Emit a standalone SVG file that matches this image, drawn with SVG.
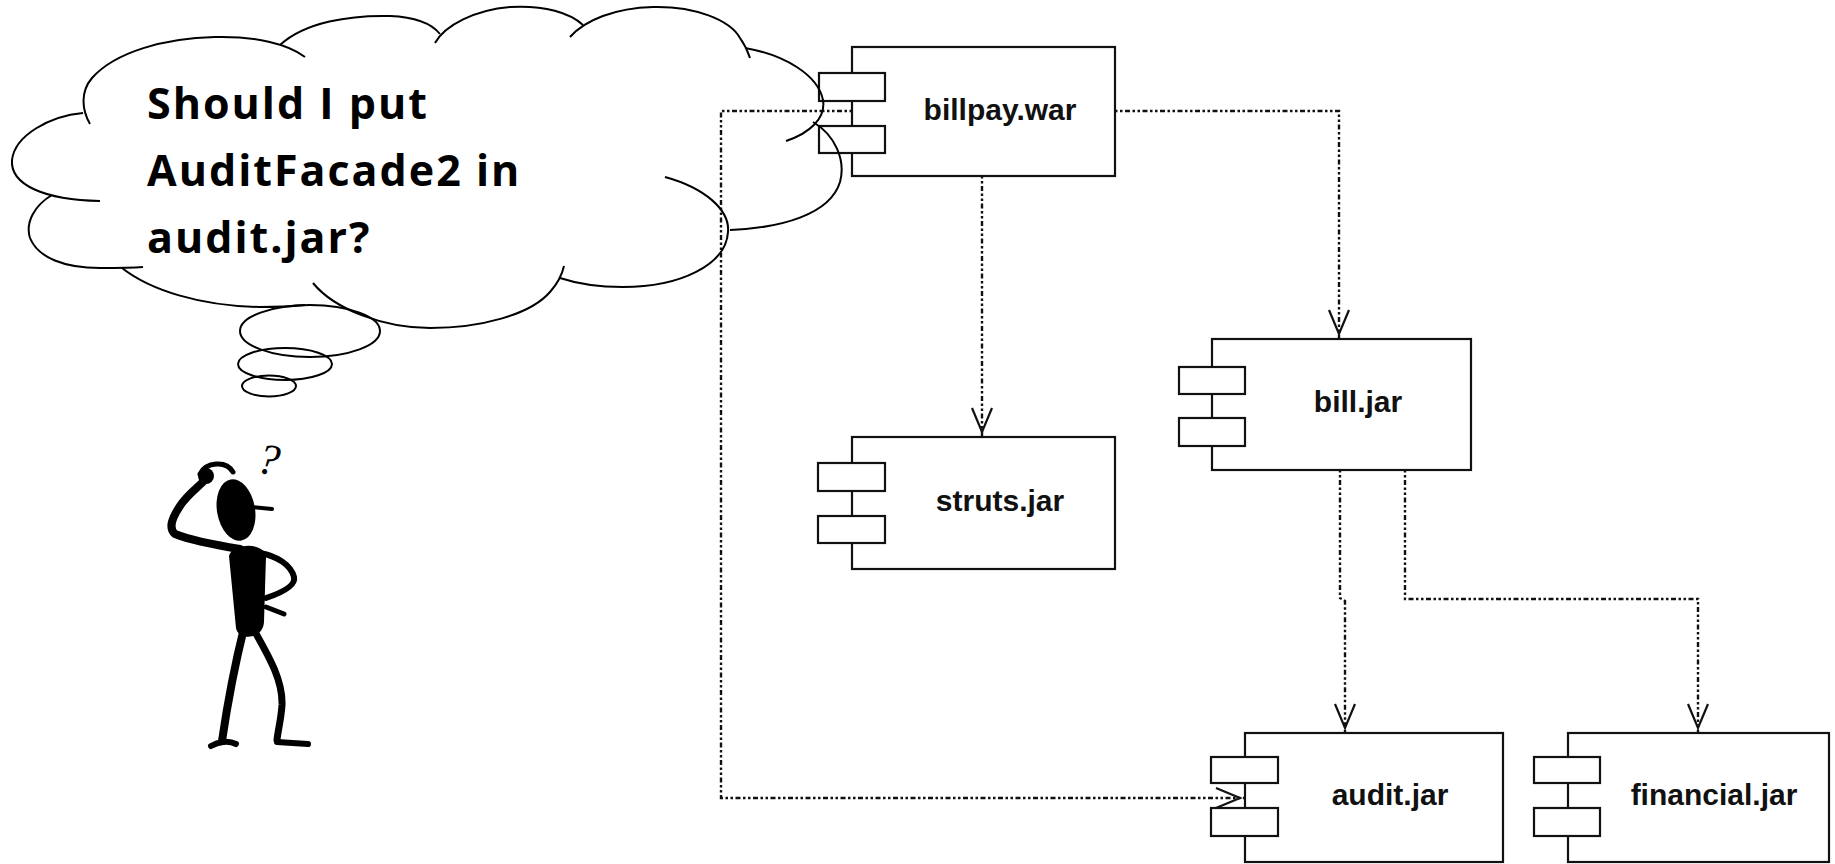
<svg xmlns="http://www.w3.org/2000/svg" width="1835" height="864" viewBox="0 0 1835 864">
  <style>
    .body { fill: #ffffff; stroke: #111; stroke-width: 2.2; }
    .port { fill: #ffffff; stroke: #111; stroke-width: 2.2; }
    .label { font-family: "Liberation Sans", Arial, sans-serif; font-weight: bold; font-size: 30px; fill: #111; text-anchor: middle; }
    .conn { fill: none; stroke: #111; stroke-width: 2.4; stroke-dasharray: 2.5 2.5 2.5 2.5 5 2.5; marker-end: url(#dep); }
    .cloud { fill: none; stroke: #000; stroke-width: 2; }
    .thought { font-family: "Comic Sans MS", "Open Sans", sans-serif; font-weight: bold; font-size: 43px; letter-spacing: 2px; fill: #000; }
    .limb { fill: none; stroke: #000; stroke-linecap: round; stroke-linejoin: round; }
  </style>
  <defs>
    <!-- open "V" dependency arrowhead -->
    <marker id="dep" markerUnits="userSpaceOnUse" markerWidth="40" markerHeight="30" viewBox="-30 -15 40 30" refX="5" refY="0" orient="auto">
      <path d="M-24,-10 L0,0 L-24,10" fill="none" stroke="#111" stroke-width="2.2"/>
    </marker>
  </defs>

  <rect width="1835" height="864" fill="#ffffff"/>

  <!-- components -->
  <g id="billpay-war">
    <rect class="body" x="852" y="47" width="263" height="129"/>
    <rect class="port" x="819" y="73" width="66" height="28"/>
    <rect class="port" x="819" y="126" width="66" height="27"/>
    <text class="label" x="1000" y="120">billpay.war</text>
  </g>
  <g id="struts-jar">
    <rect class="body" x="852" y="437" width="263" height="132"/>
    <rect class="port" x="818" y="463" width="67" height="28"/>
    <rect class="port" x="818" y="516" width="67" height="27"/>
    <text class="label" x="1000" y="511">struts.jar</text>
  </g>
  <g id="bill-jar">
    <rect class="body" x="1212" y="339" width="259" height="131"/>
    <rect class="port" x="1179" y="367" width="66" height="27"/>
    <rect class="port" x="1179" y="418" width="66" height="28"/>
    <text class="label" x="1358" y="412">bill.jar</text>
  </g>
  <g id="audit-jar">
    <rect class="body" x="1245" y="733" width="258" height="129"/>
    <rect class="port" x="1211" y="757" width="67" height="26"/>
    <rect class="port" x="1211" y="808" width="67" height="28"/>
    <text class="label" x="1390" y="805">audit.jar</text>
  </g>
  <g id="financial-jar">
    <rect class="body" x="1568" y="733" width="261" height="129"/>
    <rect class="port" x="1534" y="757" width="66" height="26"/>
    <rect class="port" x="1534" y="808" width="66" height="28"/>
    <text class="label" x="1714" y="805">financial.jar</text>
  </g>

  <!-- dependencies -->
  <g id="connectors">
    <path class="conn" d="M852,111 L721,111 L721,798 L1245,798"/>
    <path class="conn" d="M982,176 L982,437"/>
    <path class="conn" d="M1115,111 L1339,111 L1339,339"/>
    <path class="conn" d="M1340,470 L1340,598 L1345,601 L1345,733"/>
    <path class="conn" d="M1405,470 L1405,599 L1698,599 L1698,733"/>
  </g>

  <!-- thought cloud -->
  <g id="cloud">
    <path class="cloud" d="M90,124 C82,110 80,92 92,78 C115,52 165,38 215,37 C255,36 288,44 305,57"/>
    <path class="cloud" d="M280,45 C305,22 350,15 390,16 C415,17 432,24 440,34"/>
    <path class="cloud" d="M435,43 C445,25 475,10 510,7 C545,5 570,13 583,25"/>
    <path class="cloud" d="M570,37 C585,20 615,8 653,7 C695,6 730,20 740,38 C745,45 748,52 750,58"/>
    <path class="cloud" d="M745,48 C785,55 818,75 823,100 C826,118 810,133 786,141"/>
    <path class="cloud" d="M813,122 C835,135 846,160 840,182 C830,215 780,228 730,230"/>
    <path class="cloud" d="M665,177 C705,188 730,210 728,232 C726,265 680,287 623,287 C598,287 575,283 560,278"/>
    <path class="cloud" d="M313,283 C335,310 385,328 430,328 C480,328 530,315 550,292 C558,283 562,275 564,266"/>
    <path class="cloud" d="M122,268 C150,290 200,306 260,307 C280,307 295,306 305,305"/>
    <path class="cloud" d="M52,195 C35,205 25,222 30,238 C38,258 65,268 100,268 C115,268 130,268 143,267"/>
    <path class="cloud" d="M83,113 C50,116 15,135 12,160 C10,185 45,200 100,201"/>
    <ellipse class="cloud" cx="310" cy="331" rx="70" ry="26"/>
    <ellipse class="cloud" cx="285" cy="364" rx="47" ry="16"/>
    <ellipse class="cloud" cx="269" cy="386" rx="27" ry="10.5"/>
    <text class="thought" x="147" y="119">Should I put</text>
    <text class="thought" x="147" y="186">AuditFacade2 in</text>
    <text class="thought" x="147" y="253">audit.jar?</text>
  </g>

  <!-- puzzled figure -->
  <g id="figure">
    <ellipse cx="236" cy="510" rx="19" ry="31" transform="rotate(-10 236 510)" fill="#000"/>
    <path class="limb" d="M250,507 L272,509" stroke-width="4"/>
    <circle cx="206" cy="476" r="8" fill="#000"/>
    <path class="limb" d="M200,474 C206,462 226,460 233,472" stroke-width="5"/>
    <path class="limb" d="M206,479 C197,488 186,496 180,506 C172,518 168,528 175,534 C190,540 215,545 240,549" stroke-width="8"/>
    <path d="M229,556 C232,543 264,542 266,556 L264,622 C263,640 238,641 236,628 Z" fill="#000"/>
    <path class="limb" d="M260,553 C277,556 291,565 294,577 C296,586 281,593 266,598" stroke-width="6"/>
    <path class="limb" d="M266,607 L284,614" stroke-width="5"/>
    <path class="limb" d="M244,628 C236,660 228,700 222,741" stroke-width="8"/>
    <path class="limb" d="M211,746 C218,742 228,740 236,744" stroke-width="6"/>
    <path class="limb" d="M254,630 C268,655 283,680 282,705 C281,720 278,730 277,740" stroke-width="7"/>
    <path class="limb" d="M277,742 L308,744" stroke-width="6"/>
    <text x="258" y="474" font-family="Liberation Serif, serif" font-style="italic" font-size="44" fill="#000" transform="rotate(10 268 458)">?</text>
  </g>
</svg>
